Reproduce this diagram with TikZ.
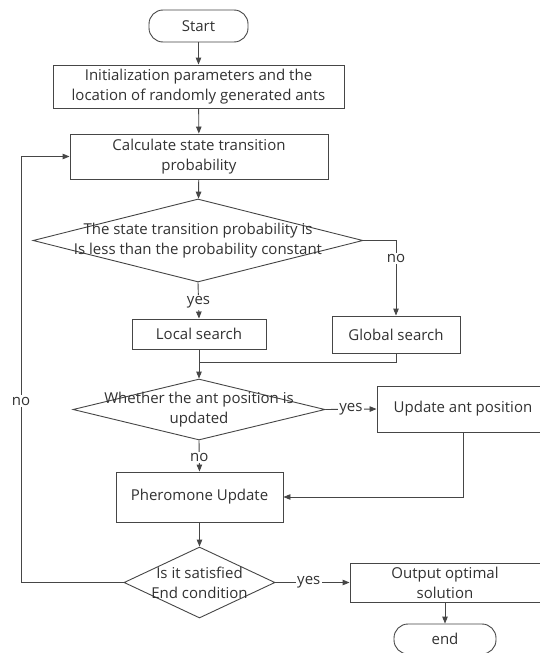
\documentclass[tikz,border=0pt]{standalone}
\usepackage{fontspec}
\setmainfont{Open Sans}
\usetikzlibrary{arrows.meta,positioning,calc,shapes.geometric}
\definecolor{lineGray}{RGB}{70,70,70}
\definecolor{textGray}{RGB}{50,50,50}

\tikzset{
  box/.style={draw=lineGray,line width=0.9pt,inner sep=0pt,align=center,text=textGray},
  term/.style={box,rounded corners=14pt},
  decide/.style={draw=lineGray,line width=0.9pt,diamond,inner sep=0pt},
  dtext/.style={align=center,text=textGray,inner sep=0pt},
  arr/.style={draw=lineGray,line width=0.9pt,-{Triangle[length=7pt,width=5.5pt]}},
  link/.style={draw=lineGray,line width=0.9pt},
  lab/.style={fill=white,inner sep=1.5pt,text=textGray}
}

\begin{document}
\begin{tikzpicture}[x=1pt,y=-1pt,font=\fontsize{15}{20}\selectfont]
      \useasboundingbox[fill=white] (0,0) rectangle (540,653);
      % boxes
      \node[term,minimum width=99pt,minimum height=32pt] (start) at (198.5,26) {Start};
      \node[box,minimum width=291pt,minimum height=43pt] (init) at (198.5,86.5)
        {Initialization parameters and the\\location of randomly generated ants};
      \node[box,minimum width=258pt,minimum height=45pt] (calc) at (199,156.5)
        {Calculate state transition\\probability};
      \node[decide,minimum width=330pt,minimum height=83pt] (d1) at (198,240.5) {};
      \node[dtext] (d1t) at (d1) {The state transition probability is\\Is less than the probability constant};
      \node[box,minimum width=134pt,minimum height=30pt] (local) at (199,334) {Local search};
      \node[box,minimum width=128pt,minimum height=37pt] (global) at (396,334.5) {Global search};
      \node[decide,minimum width=252pt,minimum height=61pt] (d2) at (199,409.5) {};
      \node[dtext] (d2t) at (d2) {Whether the ant position is\\updated};
      \node[box,minimum width=172pt,minimum height=46pt] (upd) at (463,409) {Update ant position};
      \node[box,minimum width=167pt,minimum height=50pt] (pher) at (199.5,497) {Pheromone Update};
      \node[decide,minimum width=151pt,minimum height=71pt] (d3) at (199.5,582.5) {};
      \node[dtext] (d3t) at (d3) {Is it satisfied\\End condition};
      \node[box,minimum width=190pt,minimum height=39pt] (out) at (445,582.5)
        {Output optimal\\solution};
      \node[term,minimum width=102pt,minimum height=30pt] (end) at (445,639) {end};
      % connectors
      \draw[arr] (start) -- (init);
      \draw[arr] (init) -- (calc);
      \draw[arr] (calc) -- (d1);
      \draw[arr] (d1.east) -| node[lab,pos=0.62] {no} (global.north);
      \draw[arr] (d1.south) -- node[lab,pos=0.55] {yes} (local.north);
      \coordinate (merge) at (199,362);
      \draw[link] (global.south) |- (merge);
      \draw[arr] (local.south) -- (d2.north);
      \draw[arr] (d2.east) -- node[lab,pos=0.5] {yes} (upd.west);
      \draw[arr] (d2.south) -- node[lab,pos=0.55] {no} (pher.north);
      \draw[arr] (upd.south) |- (pher.east);
      \draw[arr] (pher) -- (d3);
      \draw[arr] (d3.east) -- node[lab,pos=0.45] {yes} (out.west);
      \draw[arr] (out) -- (end);
      \coordinate (loop) at (21,582.5);
      \draw[arr] (d3.west) -- (loop) |- (calc.west);
      \node[lab] (nolab) at (21,401) {no};
\end{tikzpicture}
\end{document}
